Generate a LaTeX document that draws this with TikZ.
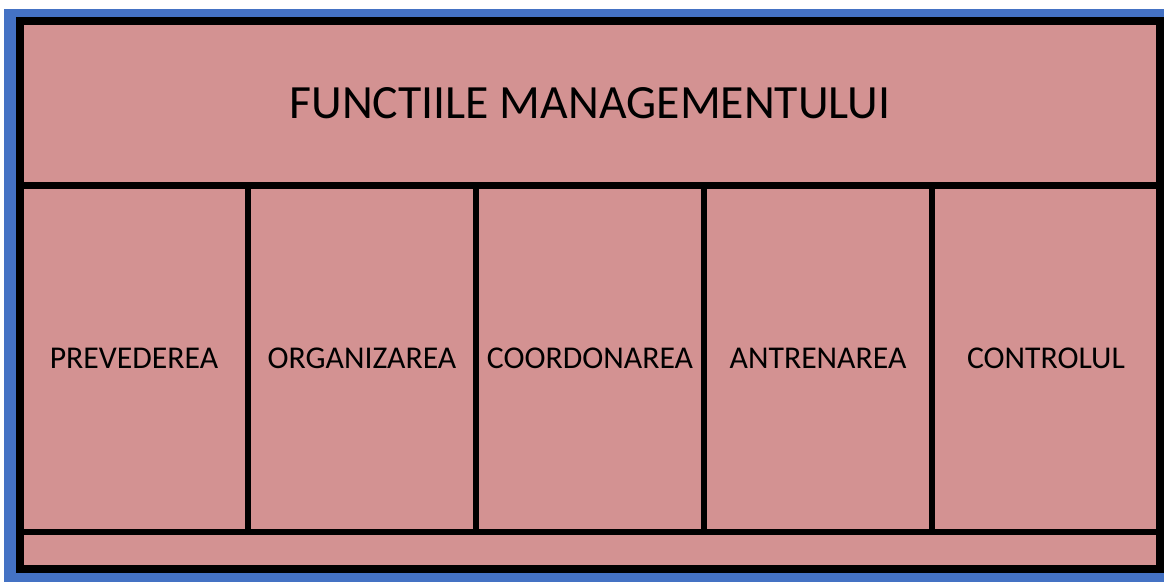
\documentclass[tikz,border=0pt]{standalone}
\usepackage{fontspec}
\setmainfont{Carlito}
\definecolor{cellpink}{RGB}{211,146,146}
\definecolor{slideblue}{RGB}{68,114,196}
\begin{document}
\begin{tikzpicture}[x=0.75pt,y=-0.75pt,line join=miter]
	\tikzset{cell/.style={draw=black,fill=cellpink,line width=4.9pt,inner sep=0pt,outer sep=0pt,anchor=north west}}
	\useasboundingbox (0,0) rectangle (1164,582);
	\fill[slideblue] (4,9) rectangle (1164,582);
	% title cell
	\node[cell,minimum width=855pt,minimum height=123.4pt,font=\fontsize{35.8}{42}\selectfont] (title) at (20,21) {FUNCTIILE MANAGEMENTULUI};
	% the five functions
	\foreach \name/\lbl [count=\i from 0] in {prev/PREVEDEREA,org/ORGANIZAREA,coord/COORDONAREA,antr/ANTRENAREA,ctrl/CONTROLUL}
		\node[cell,minimum width=171pt,minimum height=259.9pt,font=\fontsize{23.8}{28}\selectfont] (\name) at ({20+\i*228},185.5) {\lbl};
	% empty strip at the bottom
	\node[cell,minimum width=855pt,minimum height=27.75pt] (strip) at (20,532) {};
	\draw[line width=6pt] (20,21) rectangle (1160,569);
\end{tikzpicture}
\end{document}
